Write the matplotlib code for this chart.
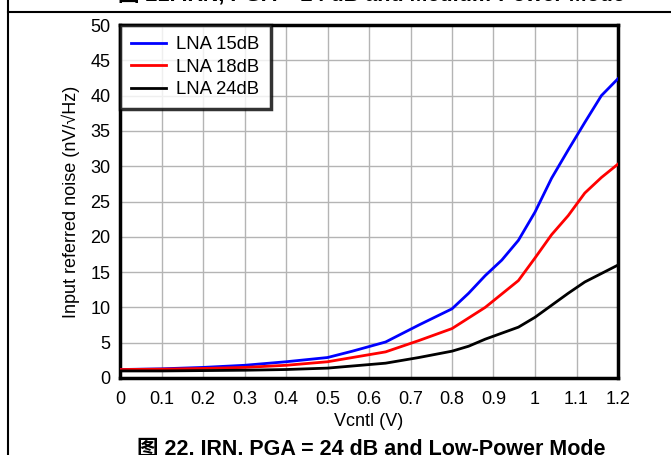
import numpy as np
import matplotlib.pyplot as plt
from matplotlib.lines import Line2D

plt.rcParams['font.family'] = ['Liberation Sans', 'Noto Sans CJK SC', 'DejaVu Sans']

# data
x15 = [0, 0.1, 0.2, 0.3, 0.4, 0.5, 0.56, 0.64, 0.72, 0.8, 0.84, 0.88, 0.92, 0.96,
       1.0, 1.04, 1.08, 1.12, 1.16, 1.2]
y15 = [1.2, 1.3, 1.5, 1.8, 2.3, 2.9, 3.8, 5.1, 7.5, 9.8, 12.0, 14.5, 16.7, 19.5,
       23.5, 28.3, 32.3, 36.2, 40.0, 42.4]
x18 = [0, 0.1, 0.2, 0.3, 0.4, 0.5, 0.64, 0.72, 0.8, 0.88, 0.96, 1.0, 1.04, 1.08,
       1.12, 1.16, 1.2]
y18 = [1.2, 1.25, 1.35, 1.5, 1.8, 2.3, 3.7, 5.3, 7.0, 10.0, 13.8, 17.0, 20.3, 23.0,
       26.2, 28.4, 30.3]
x24 = [0, 0.1, 0.2, 0.3, 0.4, 0.5, 0.64, 0.72, 0.8, 0.84, 0.88, 0.96, 1.0, 1.04,
       1.08, 1.12, 1.16, 1.2]
y24 = [1.0, 1.0, 1.05, 1.1, 1.2, 1.4, 2.1, 2.9, 3.8, 4.5, 5.5, 7.2, 8.6, 10.3,
       12.0, 13.6, 14.8, 16.0]
labels = ['LNA 15dB', 'LNA 18dB', 'LNA 24dB']
colors = ['#0000ff', '#ff0000', '#000000']

fig = plt.figure(figsize=(6.71, 4.55), dpi=100)
ax = fig.add_axes([120/671, 77/455, 498/671, 353/455])

for xs, ys, lab, c in zip([x15, x18, x24], [y15, y18, y24], labels, colors):
    ax.plot(xs, ys, color=c, lw=2, label=lab, zorder=3)

ax.set_xlim(0, 1.2)
ax.set_ylim(0, 50)
ax.set_xticks(np.arange(0, 1.21, 0.1))
ax.set_xticklabels(['0'] + ['%g' % round(v, 1) for v in np.arange(0.1, 1.21, 0.1)])
ax.set_yticks(np.arange(0, 51, 5))
ax.grid(True, color='#b4b4b4', lw=1)
ax.tick_params(length=0, labelsize=13)
ax.tick_params(axis='x', pad=9)
ax.tick_params(axis='y', pad=7)
for s in ax.spines.values():
    s.set_linewidth(2.5)
ax.set_xlabel('Vcntl (V)', fontsize=13, labelpad=4)
ax.set_ylabel('Input referred noise (nV/\u221aHz)', fontsize=13, labelpad=7)

leg = ax.legend(loc='upper left', fontsize=13.3, frameon=True, fancybox=False,
                borderaxespad=0, handlelength=1.9, handletextpad=0.55,
                labelspacing=0.3, borderpad=0.6)
leg.get_frame().set_edgecolor('black')
leg.get_frame().set_linewidth(2.5)

# outer frame of the figure page
fig.add_artist(Line2D([8/671, 8/671], [0, 1], color='black', lw=1.5, transform=fig.transFigure))
fig.add_artist(Line2D([8/671, 1], [1 - 12/455, 1 - 12/455], color='black', lw=1.5,
                      transform=fig.transFigure))

# caption of the figure above, mostly cut off by the top edge
fig.text(371/671, 1 - 1/455, '图 21. IRN, PGA = 24 dB and Medium-Power Mode',
         ha='center', va='baseline', fontsize=15.5, fontweight='bold')
fig.text(371/671, -4/455, '图 22. IRN, PGA = 24 dB and Low-Power Mode',
         ha='center', va='bottom', fontsize=15.5, fontweight='bold')

fig.savefig('out.png', dpi=100)
